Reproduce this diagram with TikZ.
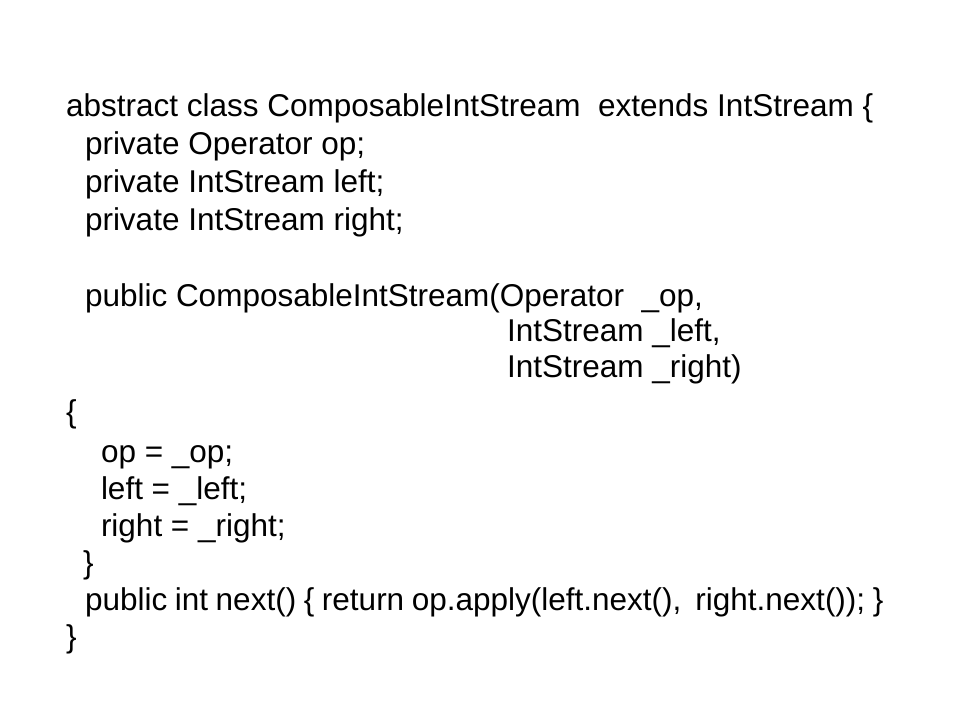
\documentclass[tikz,border=0pt]{standalone}
\usepackage{fontspec}
\setmainfont{Liberation Sans}
\begin{document}
\begin{tikzpicture}[x=1pt,y=-1pt,
  codeline/.style={anchor=base west,inner sep=0pt,outer sep=0pt,font=\fontsize{31.5}{36}\selectfont}]
\useasboundingbox[fill=white] (0,0) rectangle (960,720);
\node[codeline] (l1) at (66,116) {abstract class ComposableIntStream\ \ extends IntStream \{};
\node[codeline] (l2) at (85,154) {private Operator op;};
\node[codeline] (l3) at (85,192) {private IntStream left;};
\node[codeline] (l4) at (85,230) {private IntStream right;};
\node[codeline] (l6) at (85,306) {public ComposableIntStream(Operator\ \ \_op,};
\node[codeline] (l7) at (507,341) {IntStream \_left,};
\node[codeline] (l8) at (507,377) {IntStream \_right)};
\node[codeline] (l9) at (66,422) {\{};
\node[codeline] (l10) at (101,462) {op = \_op;};
\node[codeline] (l11) at (101,499) {left = \_left;};
\node[codeline] (l12) at (101,536) {right = \_right;};
\node[codeline] (l13) at (83,573) {\}};
\node[codeline] (l14) at (85,610) {\spaceskip=7.6pt public int next() \{ return op.apply(left.next(),\hspace{14pt}right.next()); \}};
\node[codeline] (l15) at (66,647) {\}};
\end{tikzpicture}
\end{document}
